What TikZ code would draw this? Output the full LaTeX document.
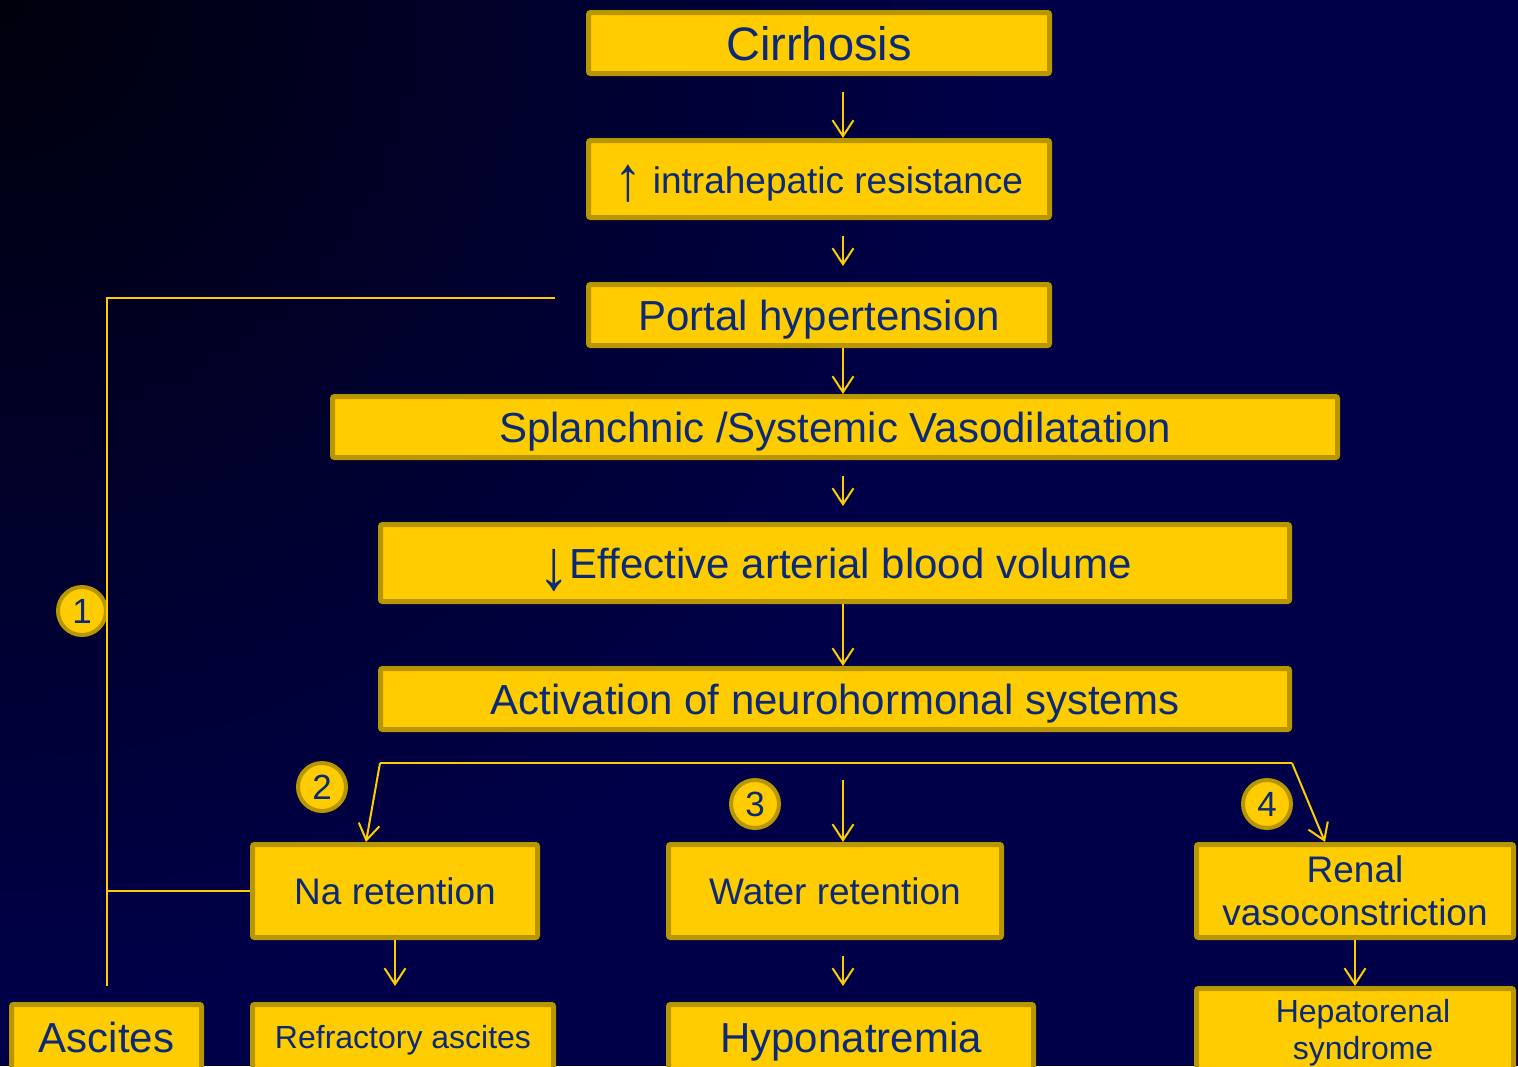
\documentclass[tikz,border=0pt]{standalone}
\usepackage{fontspec}
\setmainfont{Liberation Sans}
\usetikzlibrary{arrows.meta,positioning,shapes.geometric,calc}
\definecolor{bgnavy}{RGB}{0,0,72}
\definecolor{bgdark}{RGB}{0,0,12}
\definecolor{boxfill}{RGB}{255,204,0}
\definecolor{boxedge}{RGB}{184,150,0}
\definecolor{boxtext}{RGB}{10,42,120}
\tikzset{
    flowbox/.style={draw=boxedge, fill=boxfill, line width=5pt, rounded corners=2pt,
        text=boxtext, align=center, inner sep=0pt, text depth=0pt},
    badge/.style={circle, draw=boxedge, fill=boxfill, line width=4pt, text=boxtext,
        minimum size=48pt, inner sep=0pt, font=\fontsize{35}{35}\selectfont},
    flowline/.style={draw=boxfill, line width=2pt},
    flowarrow/.style={flowline, -{Straight Barb[length=16pt, width=21pt]}}
}

\begin{document}
\begin{tikzpicture}[x=1pt, y=-1pt, node distance=62pt]
\useasboundingbox (0,0) rectangle (1518,1066);
\clip (0,0) rectangle (1518,1066);
\fill[bgnavy] (0,0) rectangle (1518,1066);
\shade[inner color=bgdark, outer color=bgnavy] (0,0) circle (1000pt);

% main column
\node[flowbox, minimum width=461pt, minimum height=61pt, font=\fontsize{47}{56}\selectfont] (cirr) at (819,43) {Cirrhosis};
\node[flowbox, minimum width=461pt, minimum height=77pt, font=\fontsize{37}{44}\selectfont, below=of cirr] (intra) {\raisebox{-7pt}{\scalebox{1.5}[1.7]{↑}} intrahepatic resistance};
\node[flowbox, minimum width=461pt, minimum height=61pt, font=\fontsize{42}{50}\selectfont, below=of intra] (portal) {Portal hypertension};
\node[flowbox, minimum width=1005pt, minimum height=61pt, font=\fontsize{42}{50}\selectfont, below=46pt of portal, xshift=16pt] (splanch) {Splanchnic /Systemic Vasodilatation};
\node[flowbox, minimum width=909pt, minimum height=77pt, font=\fontsize{42}{50}\selectfont, below=of splanch] (eff) {\raisebox{-11pt}{\scalebox{1.5}[1.7]{↓}}Effective arterial blood volume};
\node[flowbox, minimum width=909pt, minimum height=61pt, font=\fontsize{42}{50}\selectfont, below=of eff] (act) {Activation of neurohormonal systems};

% three branches
\node[flowbox, minimum width=333pt, minimum height=93pt, font=\fontsize{37}{43}\selectfont, below=110pt of act] (water) {Water retention};
\node[flowbox, minimum width=285pt, minimum height=93pt, font=\fontsize{37}{43}\selectfont, left=126pt of water] (na) {Na retention};
\node[flowbox, minimum width=317pt, minimum height=93pt, font=\fontsize{37}{43}\selectfont, right=190pt of water] (renal) {Renal\\vasoconstriction};

% outcomes
\node[flowbox, minimum width=301pt, minimum height=65pt, font=\fontsize{32}{40}\selectfont, below=of na, xshift=8pt] (refr) {Refractory ascites};
\node[flowbox, minimum width=190pt, minimum height=65pt, font=\fontsize{42}{50}\selectfont, left=46pt of refr] (ascites) {Ascites};
\node[flowbox, minimum width=365pt, minimum height=65pt, font=\fontsize{42}{50}\selectfont, below=of water, xshift=16pt] (hypo) {Hyponatremia};
\node[flowbox, minimum width=317pt, minimum height=81pt, font=\fontsize{32}{37}\selectfont, below=46pt of renal] (hepato) {\hspace*{16pt}Hepatorenal\\\hspace*{16pt}syndrome};

\node[badge] (b1) at (82,611) {1};
\node[badge] (b2) at (322,787) {2};
\node[badge] (b3) at (755,804) {3};
\node[badge] (b4) at (1267,804) {4};

\coordinate (spine) at (843,0);
\draw[flowarrow, shorten <=16pt] (cirr.south -| spine) -- (intra.north -| spine);
\draw[flowarrow, shorten <=16pt, shorten >=16pt] (intra.south -| spine) -- (portal.north -| spine);
\draw[flowarrow] (portal.south -| spine) -- (splanch.north -| spine);
\draw[flowarrow, shorten <=16pt, shorten >=16pt] (splanch.south -| spine) -- (eff.north -| spine);
\draw[flowarrow] (eff.south -| spine) -- (act.north -| spine);

% fork under the activation box
\coordinate (forkL) at ([shift={(2,31)}]act.south west);
\coordinate (forkR) at ([yshift=-31pt]act.south east);
\draw[flowline] (forkL) -- (forkR);
\draw[flowarrow] (forkL) -- ([xshift=-29pt]na.north);
\draw[flowarrow] (forkR) -- ([xshift=-30pt]renal.north);
\draw[flowarrow] ($(act.south -| spine)+(0,48)$) -- (water.north -| spine);

% portal hypertension straight to ascites
\draw[flowline] ([shift={(-31,-17)}]portal.west) -| ([yshift=16pt]ascites.north);
\draw[flowline] (na.west) -- (na.west -| ascites.north);

\draw[flowarrow, shorten >=16pt] (na.south) -- (na.south |- refr.north);
\draw[flowarrow, shorten <=16pt, shorten >=16pt] (water.south -| spine) -- (hypo.north -| spine);
\draw[flowarrow] (renal.south) -- (hepato.north);
\end{tikzpicture}
\end{document}
